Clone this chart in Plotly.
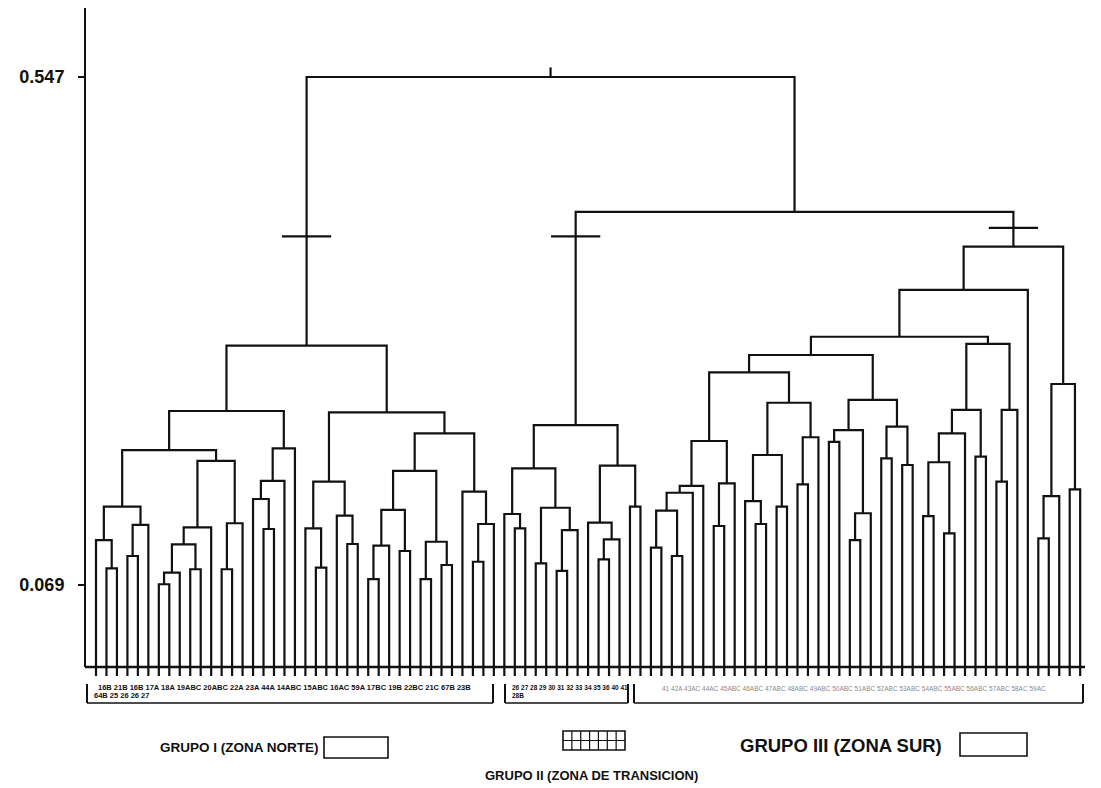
import plotly.graph_objects as go

# ---------------- data ----------------
group_names = ["GRUPO I (ZONA NORTE)", "GRUPO II (ZONA DE TRANSICION)", "GRUPO III (ZONA SUR)"]
group_sizes = [39, 14, 42]          # leaves per group, in dendrogram order
y_tick_vals = [0.069, 0.547]
y_tick_text = ["0.069", "0.547"]
cut_levels = [0.397, 0.397, 0.405]  # cross marks on the three group stems

# merges: node, left child, right child, height  (ints = leaf order index)
merges_g1 = [
    ("A", 1, 2, 0.0847), ("B", 0, "A", 0.1113), ("C", 3, 4, 0.0963),
    ("D", "C", 5, 0.1255), ("E", "B", "D", 0.1427), ("F", 6, 7, 0.0697),
    ("G", "F", 8, 0.0806), ("H", 9, 10, 0.0838), ("I", "G", "H", 0.1073),
    ("J", "I", 11, 0.1233), ("K", 12, 13, 0.0838), ("L", "K", 14, 0.1271),
    ("M", "J", "L", 0.1857), ("N", "E", "M", 0.1960), ("O", 16, 17, 0.1217),
    ("P", 15, "O", 0.1499), ("Q", "P", 18, 0.1669), ("R", "Q", 19, 0.1976),
    ("S", "N", "R", 0.2327), ("T", 21, 22, 0.0853), ("U", 20, "T", 0.1223),
    ("V", 24, 25, 0.1076), ("W", 23, "V", 0.1342), ("X", "U", "W", 0.1662),
    ("Y", 26, 27, 0.0746), ("Z", "Y", 28, 0.1060), ("AA", 29, 30, 0.1010),
    ("AB", "Z", "AA", 0.1396), ("AC", 31, 32, 0.0746), ("AD", 33, 34, 0.0878),
    ("AE", "AC", "AD", 0.1097), ("AF", "AB", "AE", 0.1763), ("AG", 36, 37, 0.0909),
    ("AH", "AG", 38, 0.1264), ("AI", 35, "AH", 0.1568), ("AJ", "AF", "AI", 0.2117),
    ("AK", "X", "AJ", 0.2315), ("GI", "S", "AK", 0.2942),
]
merges_g2 = [
    ("BA", 40, 41, 0.1223), ("BB", 39, "BA", 0.1358), ("BC", 42, 43, 0.0894),
    ("BD", 44, 45, 0.0822), ("BE", "BD", 46, 0.1207), ("BF", "BC", "BE", 0.1417),
    ("BG", "BB", "BF", 0.1788), ("BH", 48, 49, 0.0932), ("BI", "BH", 50, 0.1120),
    ("BJ", 47, "BI", 0.1276), ("BK", 51, 52, 0.1427), ("BL", "BJ", "BK", 0.1813),
    ("GII", "BG", "BL", 0.2195),
]
merges_g3 = [
    ("CA", 53, 54, 0.1041), ("CB", 55, 56, 0.0963), ("CC", "CA", "CB", 0.1389),
    ("CD", "CC", 57, 0.1558), ("CE", "CD", 58, 0.1622), ("CF", 59, 60, 0.1245),
    ("CG", "CF", 61, 0.1647), ("CH", "CE", "CG", 0.2045), ("CI", 63, 64, 0.1264),
    ("CJ", 62, "CI", 0.1480), ("CK", 65, 66, 0.1427), ("CL", "CJ", "CK", 0.1913),
    ("CM", 67, 68, 0.1637), ("CN", "CM", 69, 0.2080), ("CO", "CL", "CN", 0.2405),
    ("CP", "CH", "CO", 0.2691), ("DA", 70, 71, 0.2036), ("DB", 72, 73, 0.1113),
    ("DC", "DB", 74, 0.1365), ("DD", "DA", "DC", 0.2148), ("DE", 75, 76, 0.1882),
    ("DF", 77, 78, 0.1819), ("DG", "DE", "DF", 0.2180), ("DH", "DD", "DG", 0.2431),
    ("DJ", "CP", "DH", 0.2854), ("EA", 79, 80, 0.1339), ("EB", 81, 82, 0.1176),
    ("EC", "EA", "EB", 0.1845), ("ED", "EC", 83, 0.2117), ("EE", 84, 85, 0.1897),
    ("EF", "ED", "EE", 0.2337), ("EG", 86, 87, 0.1662), ("EH", "EG", 88, 0.2337),
    ("EI", "EF", "EH", 0.2958), ("DK", "DJ", "EI", 0.3026), ("DL", "DK", 89, 0.3466),
    ("FA", 90, 91, 0.1129), ("FB", "FA", 92, 0.1527), ("FC", 93, 94, 0.1590),
    ("FD", "FB", "FC", 0.2581), ("GIII", "DL", "FD", 0.3873),
]
merges_top = [
    ("G23", "GII", "GIII", 0.4200),
    ("ROOT", "GI", "G23", 0.547),
]
root_stub = 0.556

g1_labels = ["16B 21B 16B 17A 18A 19ABC 20ABC 22A 23A 44A 14ABC 15ABC 16AC 59A 17BC 19B 22BC 21C 67B 23B",
             "64B 25 26 26 27"]
g2_labels = ["26 27 28 29 30 31 32 33 34 35 36 40 41", "28B"]
g3_labels = ["41 42A 43AC 44AC 45ABC 46ABC 47ABC 48ABC 49ABC 50ABC 51ABC 52ABC 53ABC 54ABC 55ABC 56ABC 57ABC 58AC 59AC"]

# ---------------- geometry ----------------
n_leaves = sum(group_sizes)
leaf_bottom = -0.0166
baseline = -0.0082
y_min, y_max = -0.0185, 0.6119
x_min, x_max = -1.0506, 94.46

merges = merges_g1 + merges_g2 + merges_g3 + merges_top
pos, hgt = {}, {}
for i in range(n_leaves):
    pos[i] = float(i)
    hgt[i] = leaf_bottom

xs, ys = [], []
for name, a, b, h in merges:
    pos[name] = (pos[a] + pos[b]) / 2
    hgt[name] = h
    xs += [pos[a], pos[a], pos[b], pos[b], None]
    ys += [hgt[a], h, h, hgt[b], None]

# root stub
xs += [pos["ROOT"], pos["ROOT"], None]
ys += [0.547, root_stub, None]

fig = go.Figure()
fig.add_trace(go.Scatter(x=xs, y=ys, mode="lines",
                         line=dict(color="#111111", width=2.2), hoverinfo="skip"))

# cross marks on group stems
cx, cy = [], []
for node, lvl in zip(["GI", "GII", "GIII"], cut_levels):
    cx += [pos[node] - 2.35, pos[node] + 2.35, None]
    cy += [lvl, lvl, None]
fig.add_trace(go.Scatter(x=cx, y=cy, mode="lines",
                         line=dict(color="#111111", width=2.4), hoverinfo="skip"))

# baseline
fig.add_trace(go.Scatter(x=[x_min, 94.75], y=[baseline, baseline], mode="lines",
                         line=dict(color="#111111", width=2.4), hoverinfo="skip"))

W, H = 1101, 788
ML, MR, MT, MB = 85, 16, 8, 110
PW, PH = W - ML - MR, H - MT - MB

def px(xp):
    return (xp - ML) / PW

def py(yp):
    return (H - MB - yp) / PH

shapes = []
# y axis line
shapes.append(dict(type="line", xref="paper", yref="y", x0=0, x1=0, y0=baseline, y1=y_max,
                   line=dict(color="#111111", width=2)))

def bracket(x0, x1, ytop, ybot):
    for xx in (x0, x1):
        shapes.append(dict(type="line", xref="paper", yref="paper",
                           x0=px(xx), x1=px(xx), y0=py(ytop), y1=py(ybot),
                           line=dict(color="#111111", width=2)))
    shapes.append(dict(type="line", xref="paper", yref="paper",
                       x0=px(x0), x1=px(x1), y0=py(ybot), y1=py(ybot),
                       line=dict(color="#111111", width=1.5)))

bracket(87, 493, 684, 703)
bracket(505, 628, 684, 703)
bracket(634, 1083, 684, 703)

def rect(x0, y0, x1, y1):
    shapes.append(dict(type="rect", xref="paper", yref="paper",
                       x0=px(x0), x1=px(x1), y0=py(y1), y1=py(y0),
                       line=dict(color="#111111", width=1.6), fillcolor="rgba(0,0,0,0)"))

rect(324, 737, 388, 758)
rect(960, 733, 1027, 756)
rect(563, 731, 625, 750)
# grid inside hatched box
for k in range(1, 7):
    xx = 563 + k * (62 / 7)
    shapes.append(dict(type="line", xref="paper", yref="paper",
                       x0=px(xx), x1=px(xx), y0=py(731), y1=py(750),
                       line=dict(color="#111111", width=1.2)))
shapes.append(dict(type="line", xref="paper", yref="paper",
                   x0=px(563), x1=px(625), y0=py(740.5), y1=py(740.5),
                   line=dict(color="#111111", width=1.2)))

FONT = "Liberation Sans, Arial, sans-serif"
ann = []

def text(t, xp, yp, size, anchor="left", color="#111111", weight="bold"):
    ann.append(dict(text=t, xref="paper", yref="paper", x=px(xp), y=py(yp),
                    xanchor=anchor, yanchor="middle", showarrow=False,
                    font=dict(family=FONT, size=size, color=color, weight=weight)))

text(g1_labels[0], 96, 687.5, 7.5)
text(g1_labels[1], 92, 695, 7.5)
text(g2_labels[0], 510, 687.5, 6.5)
text(g2_labels[1], 510, 695, 6.5)
text(g3_labels[0], 660, 688, 6.5, color="#8a8a8a", weight="normal")

text(group_names[0], 158, 747, 13.5)
text(group_names[1], 591, 775, 13, anchor="center")
text(group_names[2], 738, 745, 18.5)

fig.update_layout(
    width=W, height=H, margin=dict(l=ML, r=MR, t=MT, b=MB),
    paper_bgcolor="white", plot_bgcolor="white", showlegend=False,
    xaxis=dict(range=[x_min, x_max], visible=False, fixedrange=True),
    yaxis=dict(range=[y_min, y_max], showgrid=False, zeroline=False, showline=False,
               fixedrange=True,
               tickvals=y_tick_vals, ticktext=y_tick_text, ticks="outside",
               ticklen=6, tickwidth=1.5, tickcolor="#111111",
               ticklabelstandoff=10,
               tickfont=dict(family=FONT, size=18, color="#111111", weight="bold")),
    shapes=shapes, annotations=ann,
)

fig.write_html("out.html", config={"displayModeBar": False},
               post_script="document.body.style.margin='0';document.body.style.overflow='hidden';")
